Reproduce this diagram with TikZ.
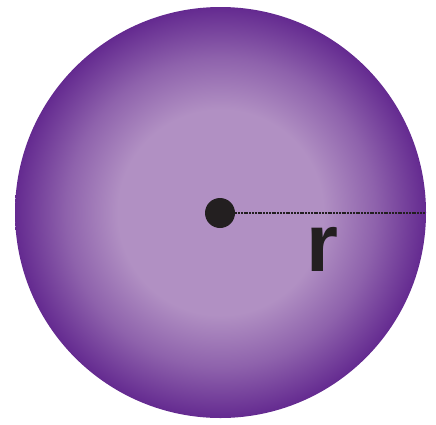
\documentclass[tikz,border=0pt]{standalone}
\usepackage{fontspec}
\newfontfamily\labelfont{Liberation Sans}
\definecolor{spherelight}{RGB}{177,144,195}
\definecolor{spheredark}{RGB}{100,42,144}
\definecolor{inkdark}{RGB}{35,31,32}
\pgfdeclareradialshading{sphereshade}{\pgfpoint{0bp}{0bp}}{%
  color(0bp)=(spherelight); color(12.5bp)=(spherelight); color(18.8bp)=(spherelight!55!spheredark); color(25bp)=(spheredark); color(50bp)=(spheredark)}
\tikzset{
  radiusline/.style={draw=inkdark, line width=2.5pt, dash pattern=on 2pt off 0.8pt},
  centerdot/.style={circle, fill=inkdark, inner sep=0pt, minimum size=30pt},
  radiuslabel/.style={font=\labelfont\bfseries\fontsize{82}{82}\selectfont, text=inkdark, inner sep=0pt, anchor=base}
}
\begin{document}
\begin{tikzpicture}[x=1pt,y=-1pt]
\useasboundingbox (0,0) rectangle (436,424);
\shade[shading=sphereshade] (220.5,212.5) circle (205.5);
\coordinate (edge) at (425,213);
\node[centerdot] (center) at (220,213) {};
\draw[radiusline] (center) -- (edge);
\node[radiuslabel] (r) at (322.5,271) {r};
\end{tikzpicture}
\end{document}
